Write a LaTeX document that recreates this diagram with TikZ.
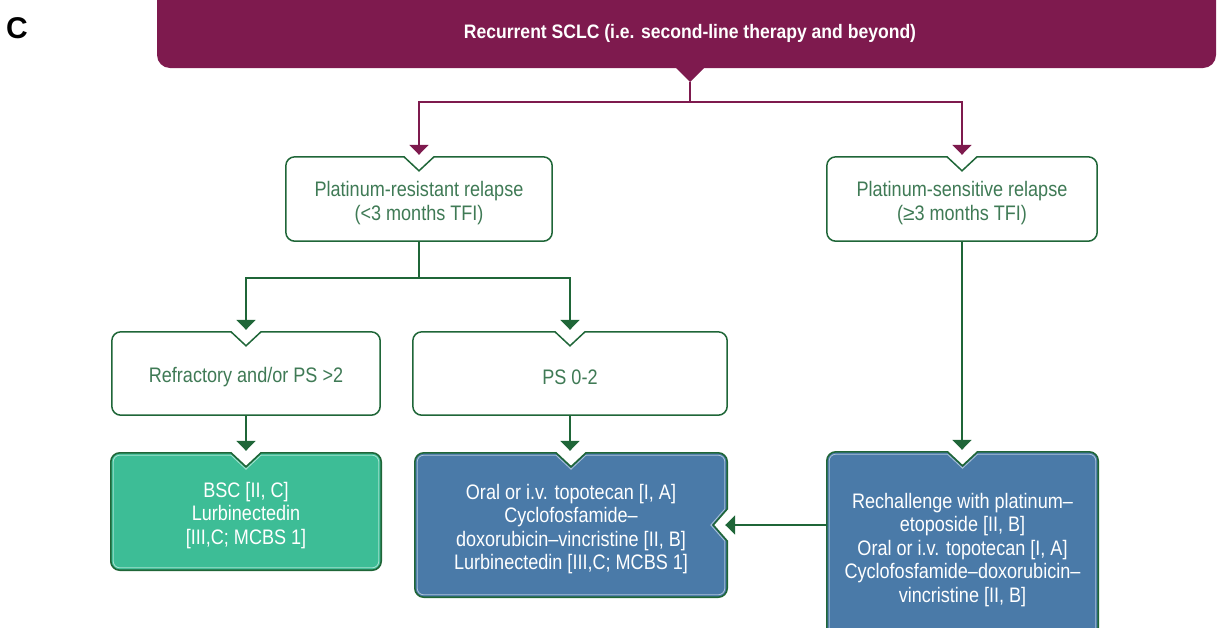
\documentclass[tikz,border=0pt]{standalone}
\usepackage{fontspec}
\setmainfont[FakeStretch=0.86]{Liberation Sans}
\newfontfamily\plainsans{Liberation Sans}
\newfontfamily\titlefont[FakeStretch=0.9]{Liberation Sans}
\usetikzlibrary{arrows.meta,calc,backgrounds}
\definecolor{maroon}{HTML}{7E1A4E}
\definecolor{dkgreen}{HTML}{1F6638}
\definecolor{txtgreen}{HTML}{3F7A55}
\definecolor{tealbox}{HTML}{3DBD96}
\definecolor{bluebox}{HTML}{4A7AA8}
\def\rr{9pt}
\def\nw{15pt}
\def\nd{14pt}
% #1 style, #2 node, #3 inset, #4 extra segment on right edge
\newcommand\drawbox[4]{%
  \draw[#1] let \p1=(#2.north west), \p2=(#2.south east), \p3=(#2.north), \p4=(#2.east) in
  ({\x1+\rr},{\y1-#3}) -- ({\x3-\nw},{\y1-#3}) -- (\x3,{\y1-#3-\nd}) -- ({\x3+\nw},{\y1-#3})
  -- ({\x2-\rr},{\y1-#3}) arc[start angle=90,end angle=0,radius={\rr-#3}]
  #4
  -- ({\x2-#3},{\y2+\rr}) arc[start angle=0,end angle=-90,radius={\rr-#3}]
  -- ({\x1+\rr},{\y2+#3}) arc[start angle=-90,end angle=-180,radius={\rr-#3}]
  -- ({\x1+#3},{\y1-\rr}) arc[start angle=180,end angle=90,radius={\rr-#3}] -- cycle;}
\begin{document}
\begin{tikzpicture}[x=1pt,y=-1pt,
  shp/.style={inner sep=0pt},
  txt/.style={font=\fontsize{21}{23.5}\selectfont, align=center, inner sep=0pt},
  wtxt/.style={txt, text=txtgreen},
  ctxt/.style={txt, text=white},
  mline/.style={draw=maroon, line width=2pt},
  gline/.style={draw=dkgreen, line width=2pt},
  marr/.style={mline, -{Triangle[width=19pt,length=10pt]}, shorten >=2pt},
  garr/.style={gline, -{Triangle[width=19pt,length=10pt]}, shorten >=2pt},
  wout/.style={fill=white, draw=dkgreen, line width=1.5pt},
  cout/.style={draw=dkgreen, line width=1.6pt},
  cin/.style={draw=white, draw opacity=0.55, line width=0.8pt}]
\useasboundingbox (0,0) rectangle (1217,627);

% label and banner
\node[font=\plainsans\bfseries\fontsize{30}{30}\selectfont, anchor=west, inner sep=0pt] (lab) at (6,28) {C};
\node[fill=maroon, rounded corners=13pt, minimum width=1059pt, minimum height=90pt, inner sep=0pt] (banner) at (686.5,23) {};
\node[font=\titlefont\bfseries\fontsize{19.5}{20}\selectfont, text=white, inner sep=0pt] (title) at (690,33) {Recurrent SCLC (i.e. second-line therapy and beyond)};
\coordinate (bv) at (690,82);
\fill[maroon] (675,67) -- (bv) -- (705,67) -- cycle;
\coordinate (split) at (690,102);

% box shapes
\node[shp, minimum width=266pt, minimum height=84pt] (pr) at (419,199) {};
\node[shp, minimum width=270pt, minimum height=84pt] (ps) at (962,199) {};
\node[shp, minimum width=268pt, minimum height=83pt] (ref) at (246,373.5) {};
\node[shp, minimum width=314pt, minimum height=83pt] (ps02) at (570,373.5) {};
\node[shp, minimum width=270pt, minimum height=117pt] (gb) at (246,511.5) {};
\node[shp, minimum width=312pt, minimum height=144pt] (mb) at (571,525) {};
\node[shp, minimum width=271pt, minimum height=188pt] (rb) at (962.5,546) {};

\drawbox{wout}{pr}{0pt}{}
\drawbox{wout}{ps}{0pt}{}
\drawbox{wout}{ref}{0pt}{}
\drawbox{wout}{ps02}{0pt}{}
\drawbox{cout, fill=tealbox}{gb}{0pt}{}
\drawbox{cin}{gb}{2.4pt}{}
\drawbox{cout, fill=bluebox}{mb}{0pt}{-- ({\x2},{\y4+16pt}) -- ({\x2-\nd},\y4) -- ({\x2},{\y4-16pt})}
\drawbox{cin}{mb}{2.4pt}{-- ({\x2-2.4pt},{\y4+16pt}) -- ({\x2-2.4pt-\nd},\y4) -- ({\x2-2.4pt},{\y4-16pt})}
\drawbox{cout, fill=bluebox}{rb}{0pt}{}
\drawbox{cin}{rb}{2.4pt}{}

% texts
\node[wtxt] (prt) at ([yshift=-4pt]pr.center) {Platinum-resistant relapse\\(<3 months TFI)};
\node[wtxt] (pst) at ([yshift=-4pt]ps.center) {Platinum-sensitive relapse\\(\plainsans ≥\normalfont 3 months TFI)};
\node[wtxt] (reft) at ([yshift=-4pt]ref.center) {Refractory and/or PS >2};
\node[wtxt] (ps02t) at ([yshift=-4pt]ps02.center) {PS 0-2};
\node[ctxt] (gbt) at ([yshift=-4pt]gb.center) {BSC [II, C]\\Lurbinectedin\\{}[III,C; MCBS 1]};
\node[ctxt] (mbt) at ([yshift=-4pt]mb.center) {Oral or i.v. topotecan [I, A]\\Cyclofosfamide--\\doxorubicin--vincristine [II, B]\\Lurbinectedin [III,C; MCBS 1]};
\node[ctxt] (rbt) at ([yshift=-4pt]rb.center) {Rechallenge with platinum--\\etoposide [II, B]\\Oral or i.v. topotecan [I, A]\\Cyclofosfamide--doxorubicin--\\vincristine [II, B]};

% connectors
\draw[mline] (bv) -- (split);
\draw[marr] (split) -| (pr.north);
\draw[marr] (split) -| (ps.north);
\coordinate (gsplit) at ($(pr.south)+(0,37)$);
\draw[gline] (pr.south) -- (gsplit);
\draw[garr] (gsplit) -| (ref.north);
\draw[garr] (gsplit) -| (ps02.north);
\draw[garr] (ref.south) -- (gb.north);
\draw[garr] (ps02.south) -- (ps02.south |- mb.north);
\draw[garr] (ps.south) -- (ps.south |- rb.north);
\draw[garr, shorten >=-2pt] (mb.east -| rb.west) -- (mb.east);
\end{tikzpicture}
\end{document}
